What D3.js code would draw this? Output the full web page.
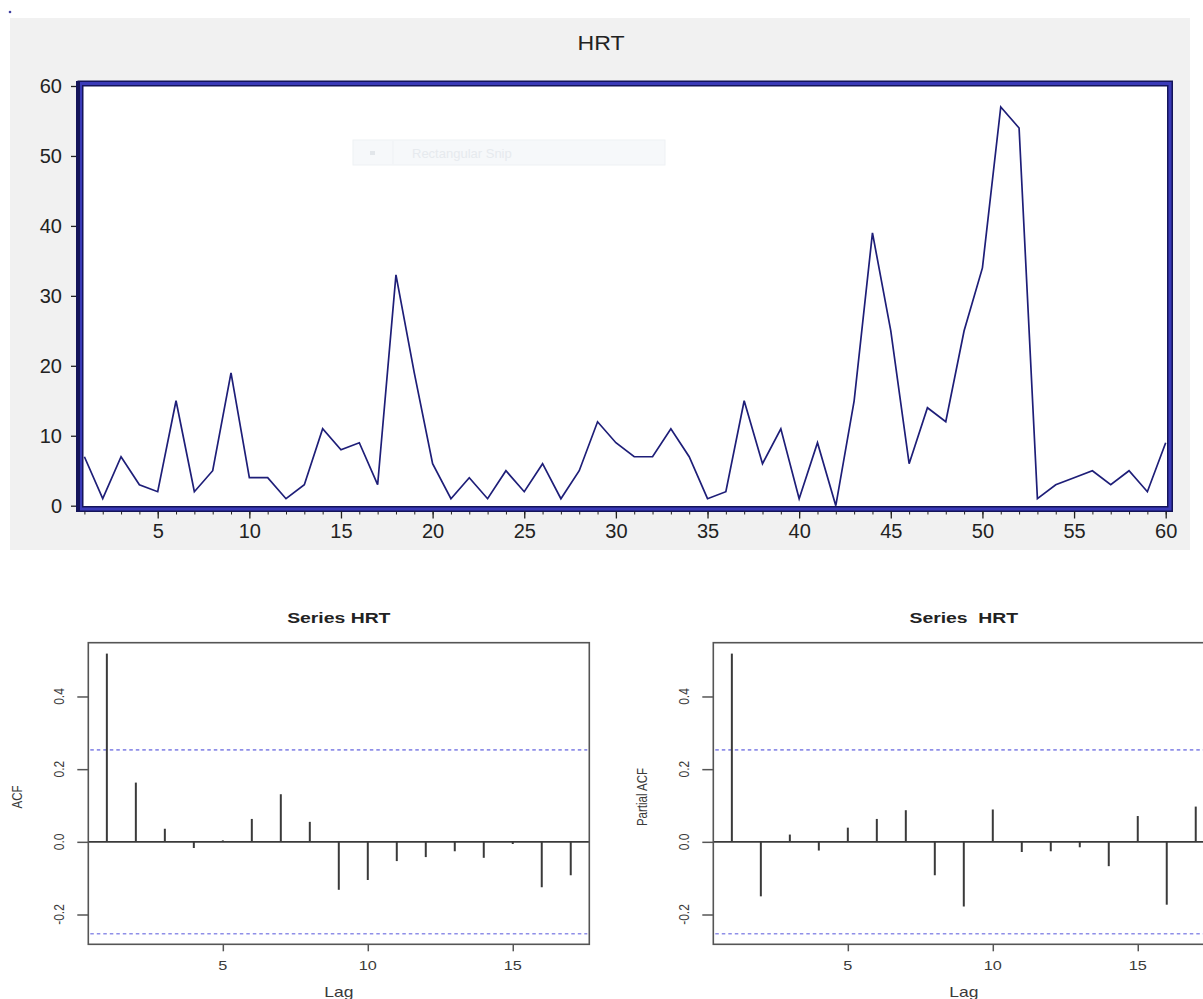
<!DOCTYPE html>
<html>
<head>
<meta charset="utf-8">
<script src="https://d3js.org/d3.v7.min.js"></script>
<style>
body { margin: 0; background: #fff; }
text { font-family: "Liberation Sans", Arial, sans-serif; }
</style>
</head>
<body>
<svg id="chart" width="1203" height="999"></svg>
<script>
// HRT series, observations 1..60
var obs = d3.range(1, 61);
var hrt = [7,1,7,3,2,15,2,5,19,4,4,1,3,11,8,9,3,33,19,6,
           1,4,1,5,2,6,1,5,12,9,7,7,11,7,1,2,15,6,11,1,
           9,0,15,39,25,6,14,12,25,34,57,54,1,3,4,5,3,5,2,9];
var xTicks = [5,10,15,20,25,30,35,40,45,50,55,60];
var yTicks = [0,10,20,30,40,50,60];

// autocorrelations, lags 1..17
var lags = d3.range(1, 18);
var acfVals = [0.518,0.163,0.036,-0.017,0.004,0.063,0.131,0.055,-0.132,
               -0.105,-0.053,-0.042,-0.026,-0.044,-0.006,-0.125,-0.092];
var pacfVals = [0.518,-0.150,0.020,-0.024,0.039,0.063,0.087,-0.092,-0.178,
                0.089,-0.028,-0.026,-0.015,-0.067,0.071,-0.173,0.097];
var ciBound = 1.96 / Math.sqrt(60);
var lagTicks = [5,10,15];
var corrTicks = [-0.2,0.0,0.2,0.4];

var svg = d3.select("#chart");

function DrawSeries(){
    var navy = "#1e1e78";

    // grey window background
    svg.append("rect")
       .attr("x", 10).attr("y", 18)
       .attr("width", 1180).attr("height", 532)
       .attr("fill", "#f1f1f1");
    svg.append("circle")
       .attr("cx", 10).attr("cy", 12).attr("r", 1.3)
       .attr("fill", "#4040a0");

    var x = d3.scaleLinear().domain([1, 60]).range([84.4, 1165.7]);
    var y = d3.scaleLinear().domain([0, 60]).range([505.7, 86]);

    svg.append("text")
       .attr("transform", "translate(601,50) scale(1.1,1)")
       .attr("text-anchor", "middle")
       .attr("font-size", "21px")
       .attr("fill", "#222")
       .text("HRT");

    // plot area
    svg.append("rect")
       .attr("x", 80.5).attr("y", 83.5)
       .attr("width", 1089.5).attr("height", 425.5)
       .attr("fill", "#fff");

    // faint snipping tool overlay
    svg.append("rect")
       .attr("x", 353).attr("y", 140)
       .attr("width", 312).attr("height", 25)
       .attr("fill", "#f6f8fa")
       .attr("stroke", "#eef1f4");
    svg.append("line")
       .attr("x1", 393).attr("x2", 393).attr("y1", 141).attr("y2", 164)
       .attr("stroke", "#eef1f4");
    svg.append("rect")
       .attr("x", 370).attr("y", 151).attr("width", 5).attr("height", 4)
       .attr("fill", "#e2e6ea");
    svg.append("text")
       .attr("x", 412).attr("y", 158)
       .attr("font-size", "13px")
       .attr("fill", "#e6eaee")
       .text("Rectangular Snip");

    var line = d3.line()
       .x(function(d, i) { return x(obs[i]); })
       .y(function(d) { return y(d); });

    svg.append("path")
       .datum(hrt)
       .attr("d", line)
       .attr("fill", "none")
       .attr("stroke", navy)
       .attr("stroke-width", 1.7)
       .attr("stroke-linejoin", "miter");

    // thick blue frame
    svg.append("rect")
       .attr("x", 80.5).attr("y", 83.5)
       .attr("width", 1089.5).attr("height", 425.5)
       .attr("fill", "none")
       .attr("stroke", "#14145a")
       .attr("stroke-width", 6);
    svg.append("rect")
       .attr("x", 80.5).attr("y", 83.5)
       .attr("width", 1089.5).attr("height", 425.5)
       .attr("fill", "none")
       .attr("stroke", "#3a3ab8")
       .attr("stroke-width", 3);
    svg.append("rect")
       .attr("x", 76).attr("y", 81)
       .attr("width", 4).attr("height", 431)
       .attr("fill", "#14145a");

    // x axis: minor ticks every unit, major every 5
    svg.append("g")
       .attr("transform", "translate(0,511.5)")
       .call(d3.axisBottom(x).tickValues(obs).tickSize(3).tickFormat(""))
       .call(function(g) { g.select(".domain").remove(); })
       .selectAll("line").attr("stroke", "#222");

    var gx = svg.append("g")
       .attr("transform", "translate(0,511.5)")
       .call(d3.axisBottom(x).tickValues(xTicks).tickSize(7).tickPadding(5));
    gx.select(".domain").remove();
    gx.selectAll("line").attr("stroke", "#222").attr("stroke-width", 1.3);
    gx.selectAll("text")
      .attr("font-size", "20px")
      .attr("font-family", "Liberation Sans, Arial, sans-serif")
      .attr("fill", "#222");

    var gy = svg.append("g")
       .attr("transform", "translate(76,0)")
       .call(d3.axisLeft(y).tickValues(yTicks).tickSize(5).tickPadding(9));
    gy.select(".domain").remove();
    gy.selectAll("line").attr("stroke", "#222").attr("stroke-width", 1.3);
    gy.selectAll("text")
      .attr("font-size", "20px")
      .attr("font-family", "Liberation Sans, Arial, sans-serif")
      .attr("fill", "#222");
}

function DrawCorr(vals, left, right, title, ylab){
    var top = 642.7, bottom = 944.3;
    var sx = 1.25; // the R device output is stretched sideways
    var ink = "#3a3a3a";

    var g = svg.append("g");
    var x = d3.scaleLinear().domain([0.36, 17.64]).range([left, right]);
    var y = d3.scaleLinear().domain([-0.282, 0.548]).range([bottom, top]);
    var cx = (left + right) / 2;

    g.append("text")
       .attr("transform", "translate(" + cx + "," + (top - 20) + ") scale(" + sx + ",1)")
       .attr("text-anchor", "middle")
       .attr("font-size", "15.5px")
       .attr("font-weight", "bold")
       .attr("fill", "#222")
       .style("white-space", "pre")
       .text(title);

    // confidence bounds
    [ciBound, -ciBound].forEach(function(c) {
        g.append("line")
         .attr("x1", left + 2).attr("x2", right - 2)
         .attr("y1", y(c)).attr("y2", y(c))
         .attr("stroke", "#8f8fe8")
         .attr("stroke-width", 1.6)
         .attr("stroke-dasharray", "3.5,3");
    });

    g.append("line")
     .attr("x1", left).attr("x2", right)
     .attr("y1", y(0)).attr("y2", y(0))
     .attr("stroke", ink)
     .attr("stroke-width", 1.6);

    g.selectAll(".bar")
     .data(vals)
     .enter().append("line")
     .attr("class", "bar")
     .attr("x1", function(d, i) { return x(lags[i]); })
     .attr("x2", function(d, i) { return x(lags[i]); })
     .attr("y1", y(0))
     .attr("y2", function(d) { return y(d); })
     .attr("stroke", ink)
     .attr("stroke-width", 2);

    g.append("rect")
     .attr("x", left).attr("y", top)
     .attr("width", right - left).attr("height", bottom - top)
     .attr("fill", "none")
     .attr("stroke", "#555")
     .attr("stroke-width", 1.6);

    var gx = g.append("g")
       .attr("transform", "translate(0," + bottom + ")")
       .call(d3.axisBottom(x).tickValues(lagTicks).tickSize(7).tickFormat(""));
    gx.select(".domain").remove();
    gx.selectAll("line").attr("stroke", "#555").attr("stroke-width", 1.5);
    lagTicks.forEach(function(t) {
        g.append("text")
         .attr("transform", "translate(" + x(t) + ",970) scale(" + sx + ",1)")
         .attr("text-anchor", "middle")
         .attr("font-size", "13px")
         .attr("fill", ink)
         .text(t);
    });

    var gy = g.append("g")
       .attr("transform", "translate(" + left + ",0)")
       .call(d3.axisLeft(y).tickValues(corrTicks).tickSize(11).tickFormat(""));
    gy.select(".domain").remove();
    gy.selectAll("line").attr("stroke", "#555").attr("stroke-width", 1.5);
    corrTicks.forEach(function(t) {
        g.append("text")
         .attr("transform", "translate(" + (left - 24) + "," + y(t) + ") scale(" + sx + ",1) rotate(-90)")
         .attr("text-anchor", "middle")
         .attr("font-size", "12px")
         .attr("fill", ink)
         .text(d3.format(".1f")(t).replace("\u2212", "-"));
    });

    g.append("text")
     .attr("transform", "translate(" + cx + ",997) scale(" + sx + ",1)")
     .attr("text-anchor", "middle")
     .attr("font-size", "14px")
     .attr("fill", ink)
     .text("Lag");

    g.append("text")
     .attr("transform", "translate(" + (left - 66) + ",797) scale(" + sx + ",1) rotate(-90)")
     .attr("text-anchor", "middle")
     .attr("font-size", "11.5px")
     .attr("fill", ink)
     .text(ylab);
}

DrawSeries();
DrawCorr(acfVals, 88.3, 589.3, "Series HRT", "ACF");
DrawCorr(pacfVals, 713.3, 1214.3, "Series  HRT", "Partial ACF");
</script>
</body>
</html>
